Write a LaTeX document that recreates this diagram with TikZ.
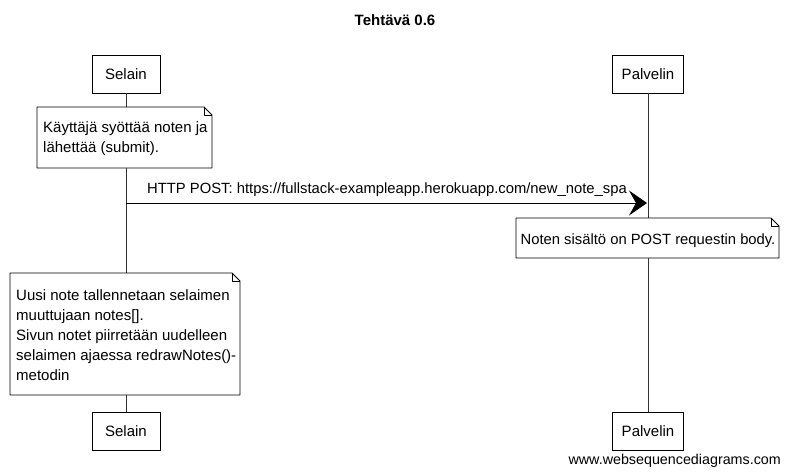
\documentclass[tikz,border=0pt]{standalone}
\usepackage{fontspec}
\setmainfont{Liberation Sans}
\usetikzlibrary{arrows.meta}
\begin{document}
\begin{tikzpicture}[x=1pt,y=1pt,
  actor/.style={draw=black, line width=0.9pt, fill=white, minimum width=68pt, minimum height=38pt, inner sep=0pt, font=\fontsize{15}{17}\selectfont},
  notetext/.style={inner sep=0pt, align=left, anchor=north west, font=\fontsize{15}{20}\selectfont},
  lifeline/.style={draw=black!80, line width=0.7pt},
  notebox/.style={draw=black, line width=0.9pt, fill=white, line join=round},
  msg/.style={draw=black, line width=1pt, -{Stealth[length=18pt,width=25pt,inset=7pt]}},
  lbl/.style={font=\fontsize{14.8}{17}\selectfont, inner sep=0pt}
]
\useasboundingbox (0,0) rectangle (789,-475);
\fill[white] (0,0) rectangle (789,-475);

\node[font=\bfseries\fontsize{15}{17}\selectfont] (title) at (395,-20) {Tehtävä 0.6};

\node[actor] (selt) at (126,-74) {Selain};
\node[actor, minimum width=71pt] (palt) at (648,-74) {Palvelin};
\node[actor] (selb) at (126,-431) {Selain};
\node[actor, minimum width=71pt] (palb) at (648,-431) {Palvelin};

\draw[lifeline] (selt.south) -- (selb.north);
\draw[lifeline] (palt.south) -- (palb.north);

% note 1
\filldraw[notebox] (37,-107) -- (204,-107) -- (212,-115) -- (212,-168) -- (37,-168) -- cycle;
\draw[notebox, fill=none] (204,-107) -- (204,-115) -- (212,-115);
\node[notetext] (n1) at (43,-121) {Käyttäjä syöttää noten ja\\lähettää (submit).};

% message
\coordinate (msgs) at (126,-203);
\coordinate (msge) at (647,-203);
\draw[msg] (msgs) -- (msge);
\node[lbl, anchor=south] (ml) at (387,-197) {HTTP POST: https://fullstack-exampleapp.herokuapp.com/new\_note\_spa};

% note 2
\filldraw[notebox] (516,-218) -- (771,-218) -- (779,-226) -- (779,-258) -- (516,-258) -- cycle;
\draw[notebox, fill=none] (771,-218) -- (771,-226) -- (779,-226);
\node[lbl] (n2) at (648,-241) {Noten sisältö on POST requestin body.};

% note 3
\filldraw[notebox] (10,-273) -- (232,-273) -- (240,-281) -- (240,-395) -- (10,-395) -- cycle;
\draw[notebox, fill=none] (232,-273) -- (232,-281) -- (240,-281);
\node[notetext] (n3) at (16,-289) {Uusi note tallennetaan selaimen\\muuttujaan notes[].\\Sivun notet piirretään uudelleen\\selaimen ajaessa redrawNotes()-\\metodin};

\node[lbl, anchor=east, font=\fontsize{14.3}{17}\selectfont] (foot) at (781,-461) {www.websequencediagrams.com};
\end{tikzpicture}
\end{document}
